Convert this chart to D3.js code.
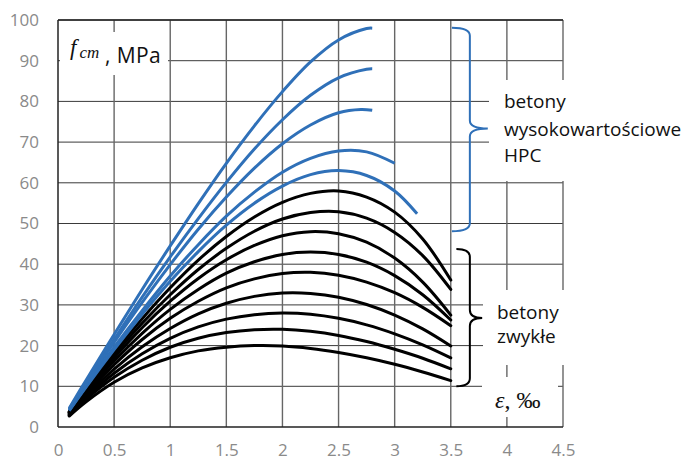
<!DOCTYPE html>
<html>
<head>
<meta charset="utf-8">
<script src="https://cdn.jsdelivr.net/npm/d3@7"></script>
<style>
  body { margin: 0; background: #fff; }
  svg { display: block; }
</style>
</head>
<body>
<div id="chart"></div>
<script>
// Axis ticks
const xTicks = [0, 0.5, 1, 1.5, 2, 2.5, 3, 3.5, 4, 4.5];
const yTicks = [0, 10, 20, 30, 40, 50, 60, 70, 80, 90, 100];

// Strain points (‰) for ordinary concrete curves
const strainNormal = [0.1, 0.25, 0.5, 0.75, 1, 1.25, 1.5, 1.75, 2, 2.25, 2.5, 2.75, 3, 3.25, 3.5];

// Stress (MPa) (black), fcm 20..58
const stressNormal = [
    [2.7, 6.2, 11.0, 14.5, 17.0, 18.7, 19.6, 20.0, 19.9, 19.3, 18.3, 17.0, 15.4, 13.5, 11.4],
    [2.9, 6.8, 12.2, 16.4, 19.6, 21.8, 23.2, 23.9, 24.0, 23.5, 22.5, 21.0, 19.1, 16.9, 14.3],
    [3.0, 7.2, 13.2, 18.0, 21.8, 24.6, 26.5, 27.6, 28.0, 27.7, 26.7, 25.1, 22.9, 20.2, 17.0],
    [3.2, 7.6, 14.2, 19.7, 24.2, 27.8, 30.4, 32.1, 32.9, 32.8, 31.9, 30.1, 27.5, 24.1, 19.9],
    [3.4, 8.2, 15.3, 21.5, 26.7, 30.9, 34.2, 36.4, 37.7, 38.0, 37.3, 35.6, 33.0, 29.4, 24.9],
    [3.5, 8.5, 16.2, 23.0, 28.9, 33.8, 37.8, 40.6, 42.4, 43.0, 42.4, 40.5, 37.2, 32.5, 26.3],
    [3.6, 8.9, 17.0, 24.4, 30.9, 36.5, 41.1, 44.6, 47.0, 48.0, 47.5, 45.4, 41.5, 35.6, 27.5],
    [3.7, 9.2, 17.7, 25.5, 32.5, 38.7, 43.9, 48.1, 51.1, 52.7, 52.9, 51.3, 47.8, 42.1, 33.8],
    [3.8, 9.5, 18.4, 26.6, 34.2, 41.0, 46.8, 51.6, 55.2, 57.4, 58.0, 56.5, 52.8, 46.2, 36.1]
];

// High performance concrete curves (blue): each has its own strain range
const strainHPC = [
    [0.1, 0.25, 0.5, 0.75, 1, 1.25, 1.5, 1.75, 2, 2.25, 2.5, 2.75, 3, 3.2],
    [0.1, 0.25, 0.5, 0.75, 1, 1.25, 1.5, 1.75, 2, 2.25, 2.5, 2.75, 3],
    [0.1, 0.25, 0.5, 0.75, 1, 1.25, 1.5, 1.75, 2, 2.25, 2.5, 2.7, 2.8],
    [0.1, 0.25, 0.5, 0.75, 1, 1.25, 1.5, 1.75, 2, 2.25, 2.5, 2.75, 2.8],
    [0.1, 0.25, 0.5, 0.75, 1, 1.25, 1.5, 1.75, 2, 2.25, 2.5, 2.75, 2.8]
];
const stressHPC = [
    [4.0, 9.8, 19.0, 27.7, 35.8, 43.1, 49.6, 55.0, 59.2, 62.0, 63.0, 61.8, 58.0, 52.4],
    [4.1, 10.0, 19.6, 28.6, 37.1, 44.8, 51.8, 57.7, 62.6, 66.0, 67.8, 67.6, 64.8],
    [4.3, 10.6, 20.8, 30.6, 39.9, 48.6, 56.5, 63.6, 69.6, 74.2, 77.2, 78.0, 77.8],
    [4.4, 10.9, 21.5, 31.9, 41.8, 51.2, 60.1, 68.3, 75.5, 81.5, 85.8, 87.9, 88.0],
    [4.6, 11.5, 22.7, 33.8, 44.5, 54.9, 64.8, 74.0, 82.4, 89.7, 95.1, 97.9, 98.0]
];

function drawChart() {
    const W = 686, H = 459;
    const margin = { top: 20, right: 123, bottom: 32, left: 58 };
    const width = W - margin.left - margin.right;
    const height = H - margin.top - margin.bottom;

    const svg = d3.select("#chart").append("svg")
        .attr("width", W)
        .attr("height", H);
    const g = svg.append("g")
        .attr("transform", `translate(${margin.left},${margin.top})`);

    const x = d3.scaleLinear().domain([0, 4.5]).range([0, width]);
    const y = d3.scaleLinear().domain([0, 100]).range([height, 0]);

    // Grid
    g.append("g").selectAll("line")
        .data(yTicks.slice(1))
        .join("line")
        .attr("x1", 0).attr("x2", width)
        .attr("y1", d => y(d)).attr("y2", d => y(d))
        .attr("stroke", "#3a3a3a").attr("stroke-width", 1);
    g.append("g").selectAll("line")
        .data(xTicks.slice(1))
        .join("line")
        .attr("x1", d => x(d)).attr("x2", d => x(d))
        .attr("y1", 0).attr("y2", height)
        .attr("stroke", "#666").attr("stroke-width", 1.4);

    // Frame
    g.append("line").attr("x1", 0).attr("x2", 0).attr("y1", 0).attr("y2", height)
        .attr("stroke", "#222").attr("stroke-width", 1.5);
    g.append("line").attr("x1", 0).attr("x2", width).attr("y1", 0).attr("y2", 0)
        .attr("stroke", "#222").attr("stroke-width", 1.5);

    // Axes (labels only)
    const yAxis = g.append("g")
        .call(d3.axisLeft(y).tickValues(yTicks).tickSize(0).tickPadding(19));
    const xAxis = g.append("g")
        .attr("transform", `translate(0,${height})`)
        .call(d3.axisBottom(x).tickValues(xTicks).tickSize(0).tickPadding(17)
            .tickFormat(d => String(d)));
    [xAxis, yAxis].forEach(a => {
        a.select(".domain").remove();
        a.selectAll("text")
            .attr("fill", "#8a8a8a")
            .style("font-family", "'Open Sans', sans-serif")
            .style("font-size", "17px");
    });
    g.append("line").attr("x1", 0).attr("x2", width).attr("y1", height).attr("y2", height)
        .attr("stroke", "#222").attr("stroke-width", 1.6);

    // White boxes behind annotations
    const boxes = [
        { x0: 60, y0: 32, x1: 168, y1: 75 },
        { x0: 489, y0: 80, x1: 686, y1: 181 },
        { x0: 483, y0: 290, x1: 600, y1: 365 },
        { x0: 482, y0: 377, x1: 558, y1: 417 }
    ];
    svg.append("g").selectAll("rect")
        .data(boxes)
        .join("rect")
        .attr("x", d => d.x0).attr("y", d => d.y0)
        .attr("width", d => d.x1 - d.x0).attr("height", d => d.y1 - d.y0)
        .attr("fill", "#fff");

    // Curves
    const line = d3.line()
        .x(d => x(d[0]))
        .y(d => y(d[1]))
        .curve(d3.curveCatmullRom.alpha(0.5));

    stressNormal.forEach(s => {
        g.append("path")
            .datum(strainNormal.map((e, i) => [e, s[i]]))
            .attr("fill", "none")
            .attr("stroke", "#000")
            .attr("stroke-width", 3)
            .attr("stroke-linecap", "round")
            .attr("d", line);
    });
    stressHPC.forEach((s, k) => {
        g.append("path")
            .datum(strainHPC[k].map((e, i) => [e, s[i]]))
            .attr("fill", "none")
            .attr("stroke", "#2f70b8")
            .attr("stroke-width", 3)
            .attr("d", line);
    });

    // Braces
    function brace(xs, xv, xt, top, mid, bot) {
        const r = 8;
        return `M${xs},${top} Q${xv},${top} ${xv},${top + r} L${xv},${mid - r} ` +
            `Q${xv},${mid} ${xt},${mid} Q${xv},${mid} ${xv},${mid + r} ` +
            `L${xv},${bot - r} Q${xv},${bot} ${xs},${bot}`;
    }
    g.append("path")
        .attr("d", brace(x(3.51), x(3.67), x(3.83), y(98) - 0.5, y(73) - 1.5, y(48) - 0.5))
        .attr("fill", "none").attr("stroke", "#2f70b8").attr("stroke-width", 2);
    g.append("path")
        .attr("d", brace(x(3.55), x(3.67), x(3.78), y(44) + 1, y(27) + 1, y(10)))
        .attr("fill", "none").attr("stroke", "#000").attr("stroke-width", 2);

    // Texts
    const sans = "'Open Sans', sans-serif";
    const serif = "'Liberation Serif', 'Times New Roman', serif";

    const fl = svg.append("text").attr("x", 70).attr("y", 57).attr("fill", "#111");
    fl.append("tspan").text("f").attr("dy", -2)
        .style("font-family", serif).style("font-style", "italic").style("font-size", "23px");
    fl.append("tspan").text("cm").attr("dx", 3).attr("dy", 3)
        .style("font-family", serif).style("font-style", "italic").style("font-size", "17px");
    fl.append("tspan").text(" , MPa").attr("dy", 5)
        .style("font-family", sans).style("font-size", "21px")
        .style("letter-spacing", "0.4px");

    const hpcLines = ["betony", "wysokowartościowe", "HPC"];
    const hpcY = [108, 136, 162];
    hpcLines.forEach((t, i) => {
        svg.append("text").attr("x", 504).attr("y", hpcY[i])
            .attr("fill", "#111")
            .style("font-family", sans).style("font-size", "19px")
            .text(t);
    });

    const nLines = ["betony", "zwykłe"];
    const nY = [319, 343];
    nLines.forEach((t, i) => {
        svg.append("text").attr("x", 497).attr("y", nY[i])
            .attr("fill", "#111")
            .style("font-family", sans).style("font-size", "19px")
            .text(t);
    });

    const eps = svg.append("text").attr("x", 495).attr("y", 408).attr("fill", "#111")
        .style("font-family", serif).style("font-size", "24px");
    eps.append("tspan").text("ε").style("font-style", "italic");
    eps.append("tspan").text(", ‰");
}

if (document.readyState === 'loading') {
    document.addEventListener('DOMContentLoaded', drawChart);
} else {
    drawChart();
}
</script>
</body>
</html>
